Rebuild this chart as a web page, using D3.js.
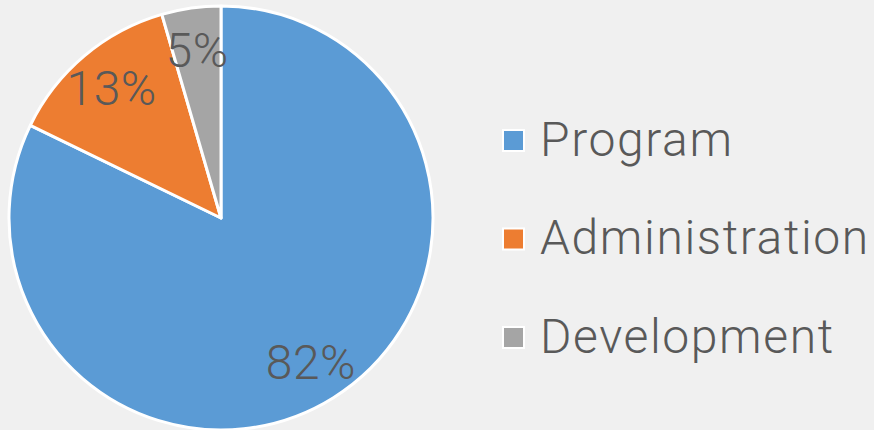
<!DOCTYPE html>
<html><head><meta charset="utf-8">
<script src="https://cdn.jsdelivr.net/npm/d3@7"></script>
<style>
html,body{margin:0;padding:0;background:#f0f0f0;}
svg{display:block;}
text{font-family:Roboto,"Noto Sans",sans-serif;font-weight:300;fill:#595959;}
</style></head>
<body>
<svg id="c" width="874" height="430"></svg>
<script>
const categories = ["Program", "Administration", "Development"];
const values = [82.2, 13.3, 4.5];
const colors = ["#5b9bd5", "#ed7d31", "#a5a5a5"];

const svg = d3.select("#c");
const W = 874, H = 430;
svg.append("rect").attr("width", W).attr("height", H).attr("fill", "#f0f0f0");

const cx = 221, cy = 218, R = 212;
const data = categories.map((c, i) => ({name: c, value: values[i], color: colors[i]}));
const pie = d3.pie().sort(null).value(d => d.value);
const arcs = pie(data);
const arc = d3.arc().innerRadius(0).outerRadius(R);
const labelArc = d3.arc().innerRadius(R * 0.8).outerRadius(R * 0.8);
const total = d3.sum(values);

const g = svg.append("g").attr("transform", `translate(${cx},${cy})`);
g.selectAll("path").data(arcs).join("path")
  .attr("d", arc)
  .attr("fill", d => d.data.color)
  .attr("stroke", "#ffffff")
  .attr("stroke-width", 3)
  .attr("stroke-linejoin", "round");

g.selectAll("text.lbl").data(arcs).join("text")
  .attr("class", "lbl")
  .attr("transform", d => `translate(${labelArc.centroid(d)})`)
  .attr("text-anchor", "middle")
  .attr("dy", "0.35em")
  .style("font-size", "48px")
  .style("letter-spacing", "0.5px")
  .text(d => Math.round(d.data.value / total * 100) + "%");

const legend = svg.append("g").attr("transform", "translate(503,0)");
const ly = d3.scalePoint().domain(categories).range([140, 337]);
const items = legend.selectAll("g").data(data).join("g")
  .attr("transform", d => `translate(0,${ly(d.name)})`);
items.append("rect")
  .attr("x", 0).attr("y", -10).attr("width", 21).attr("height", 21)
  .attr("fill", d => d.color)
  .attr("stroke", "#ffffff").attr("stroke-width", 2);
items.append("text")
  .attr("x", 37).attr("y", 0).attr("dy", "0.33em")
  .style("font-size", "48px")
  .style("letter-spacing", "1.6px")
  .text(d => d.name);
</script>
</body></html>
